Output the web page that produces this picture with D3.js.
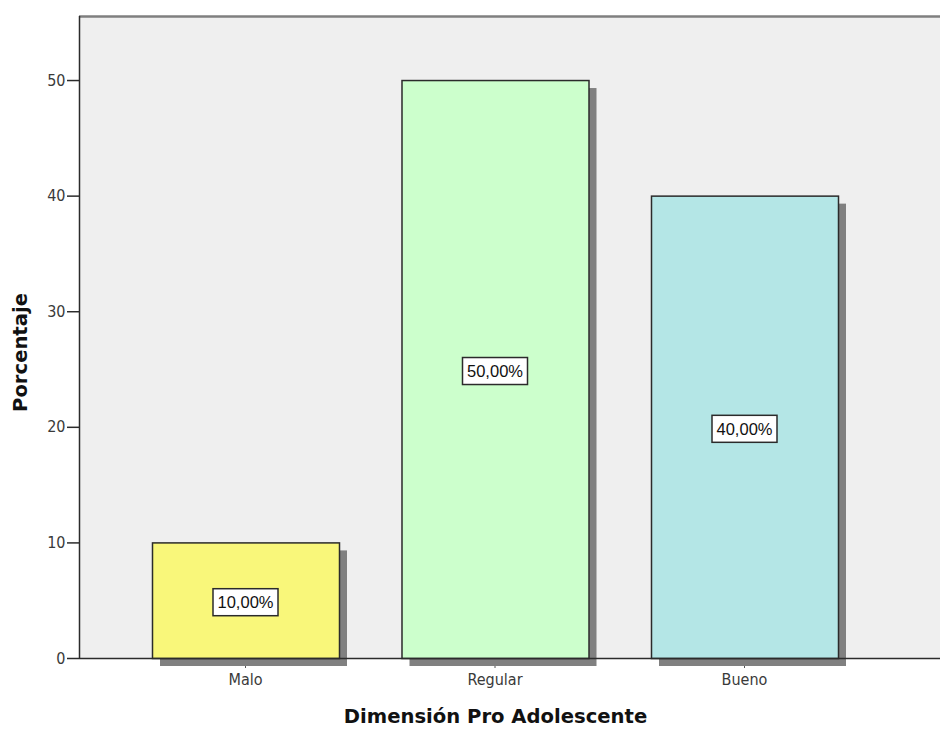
<!DOCTYPE html>
<html>
<head>
<meta charset="utf-8">
<script src="https://cdn.jsdelivr.net/npm/d3@7"></script>
<style>
  html, body { margin: 0; padding: 0; background: #ffffff; }
  svg { display: block; }
</style>
</head>
<body>
<svg id="chart" width="940" height="729"></svg>
<script>
// Distribution of the "Pro Adolescente" dimension, in percent
const categories = ["Malo", "Regular", "Bueno"];
const percentages = [10, 50, 40];
const barColors = ["#f9f77a", "#ccffcc", "#b4e6e6"];
const yTicks = [0, 10, 20, 30, 40, 50];
const valueLabels = ["10,00%", "50,00%", "40,00%"];
const xTitle = "Dimensión Pro Adolescente";
const yTitle = "Porcentaje";

const tickFont = "'DejaVu Sans Condensed', 'DejaVu Sans', sans-serif";
const titleFont = "'DejaVu Sans', sans-serif";

const svg = d3.select("#chart");
const plotLeft = 79, plotRight = 940, plotTop = 16, plotBottom = 658;

const y = d3.scaleLinear().domain([0, 55.54]).range([plotBottom, plotTop]);
const x = d3.scaleBand().domain(categories).range([120.75, 869.25])
  .paddingInner(0.2505).paddingOuter(0.12525);

// plot background
svg.append("rect")
  .attr("x", plotLeft).attr("y", plotTop)
  .attr("width", plotRight - plotLeft).attr("height", plotBottom - plotTop)
  .attr("fill", "#efefef");

// top frame line
svg.append("line")
  .attr("x1", plotLeft).attr("x2", plotRight)
  .attr("y1", plotTop + 0.5).attr("y2", plotTop + 0.5)
  .attr("stroke", "#7f7f7f").attr("stroke-width", 2.5);

const data = categories.map((c, i) => ({ cat: c, value: percentages[i], color: barColors[i], label: valueLabels[i] }));
const shadow = 8;

// drop shadows
svg.append("g").selectAll("rect").data(data).join("rect")
  .attr("x", d => x(d.cat) + shadow)
  .attr("y", d => y(d.value) + shadow)
  .attr("width", x.bandwidth())
  .attr("height", d => plotBottom - y(d.value))
  .attr("fill", "#808080");

// bars
svg.append("g").selectAll("rect").data(data).join("rect")
  .attr("x", d => x(d.cat) + 0.5)
  .attr("y", d => y(d.value) + 0.5)
  .attr("width", x.bandwidth())
  .attr("height", d => plotBottom - y(d.value))
  .attr("fill", d => d.color)
  .attr("stroke", "#2b2b2b").attr("stroke-width", 1.5);

// y axis
const yAxis = svg.append("g")
  .attr("transform", `translate(${plotLeft},0)`)
  .call(d3.axisLeft(y).tickValues(yTicks).tickSize(12).tickPadding(1.5).tickFormat(d3.format("d")));
yAxis.select(".domain").attr("stroke", "#2b2b2b").attr("stroke-width", 1.5)
  .attr("d", `M0.5,${plotTop}V${plotBottom}`);
yAxis.selectAll(".tick line").attr("stroke", "#2b2b2b").attr("stroke-width", 1.5);
yAxis.selectAll(".tick text")
  .attr("font-family", tickFont).attr("font-size", 16)
  .attr("fill", "#3a3a3a");

// x axis
const xAxis = svg.append("g")
  .attr("transform", `translate(0,${plotBottom})`)
  .call(d3.axisBottom(x).tickSize(10).tickPadding(5.5));
xAxis.select(".domain").attr("stroke", "#2b2b2b").attr("stroke-width", 1.5)
  .attr("d", `M${plotLeft},0.5H${plotRight}`);
xAxis.selectAll(".tick line").attr("stroke", "#555").attr("stroke-width", 1)
  .attr("y1", 8).attr("y2", 10);
xAxis.selectAll(".tick text")
  .attr("font-family", tickFont).attr("font-size", 16)
  .attr("fill", "#3a3a3a");

// value labels in boxes
const labels = svg.append("g").selectAll("g").data(data).join("g")
  .attr("transform", d => `translate(${x(d.cat) + x.bandwidth() / 2},${y(d.value / 2) + 2})`);
labels.append("rect")
  .attr("x", -32.5).attr("y", -13.5).attr("width", 65).attr("height", 27)
  .attr("fill", "#ffffff").attr("stroke", "#2b2b2b").attr("stroke-width", 1.5);
labels.append("text")
  .attr("text-anchor", "middle").attr("dy", "0.36em")
  .attr("font-family", "'Liberation Sans', Arial, sans-serif").attr("font-size", 16.5)
  .attr("fill", "#111")
  .text(d => d.label);

// axis titles
svg.append("text")
  .attr("x", 495.5).attr("y", 723)
  .attr("text-anchor", "middle")
  .attr("font-family", titleFont).attr("font-weight", "bold").attr("font-size", 19.6)
  .attr("fill", "#111")
  .text(xTitle);
svg.append("text")
  .attr("transform", "translate(27,352.5) rotate(-90)")
  .attr("text-anchor", "middle")
  .attr("font-family", titleFont).attr("font-weight", "bold").attr("font-size", 19.6)
  .attr("fill", "#111")
  .text(yTitle);
</script>
</body>
</html>
